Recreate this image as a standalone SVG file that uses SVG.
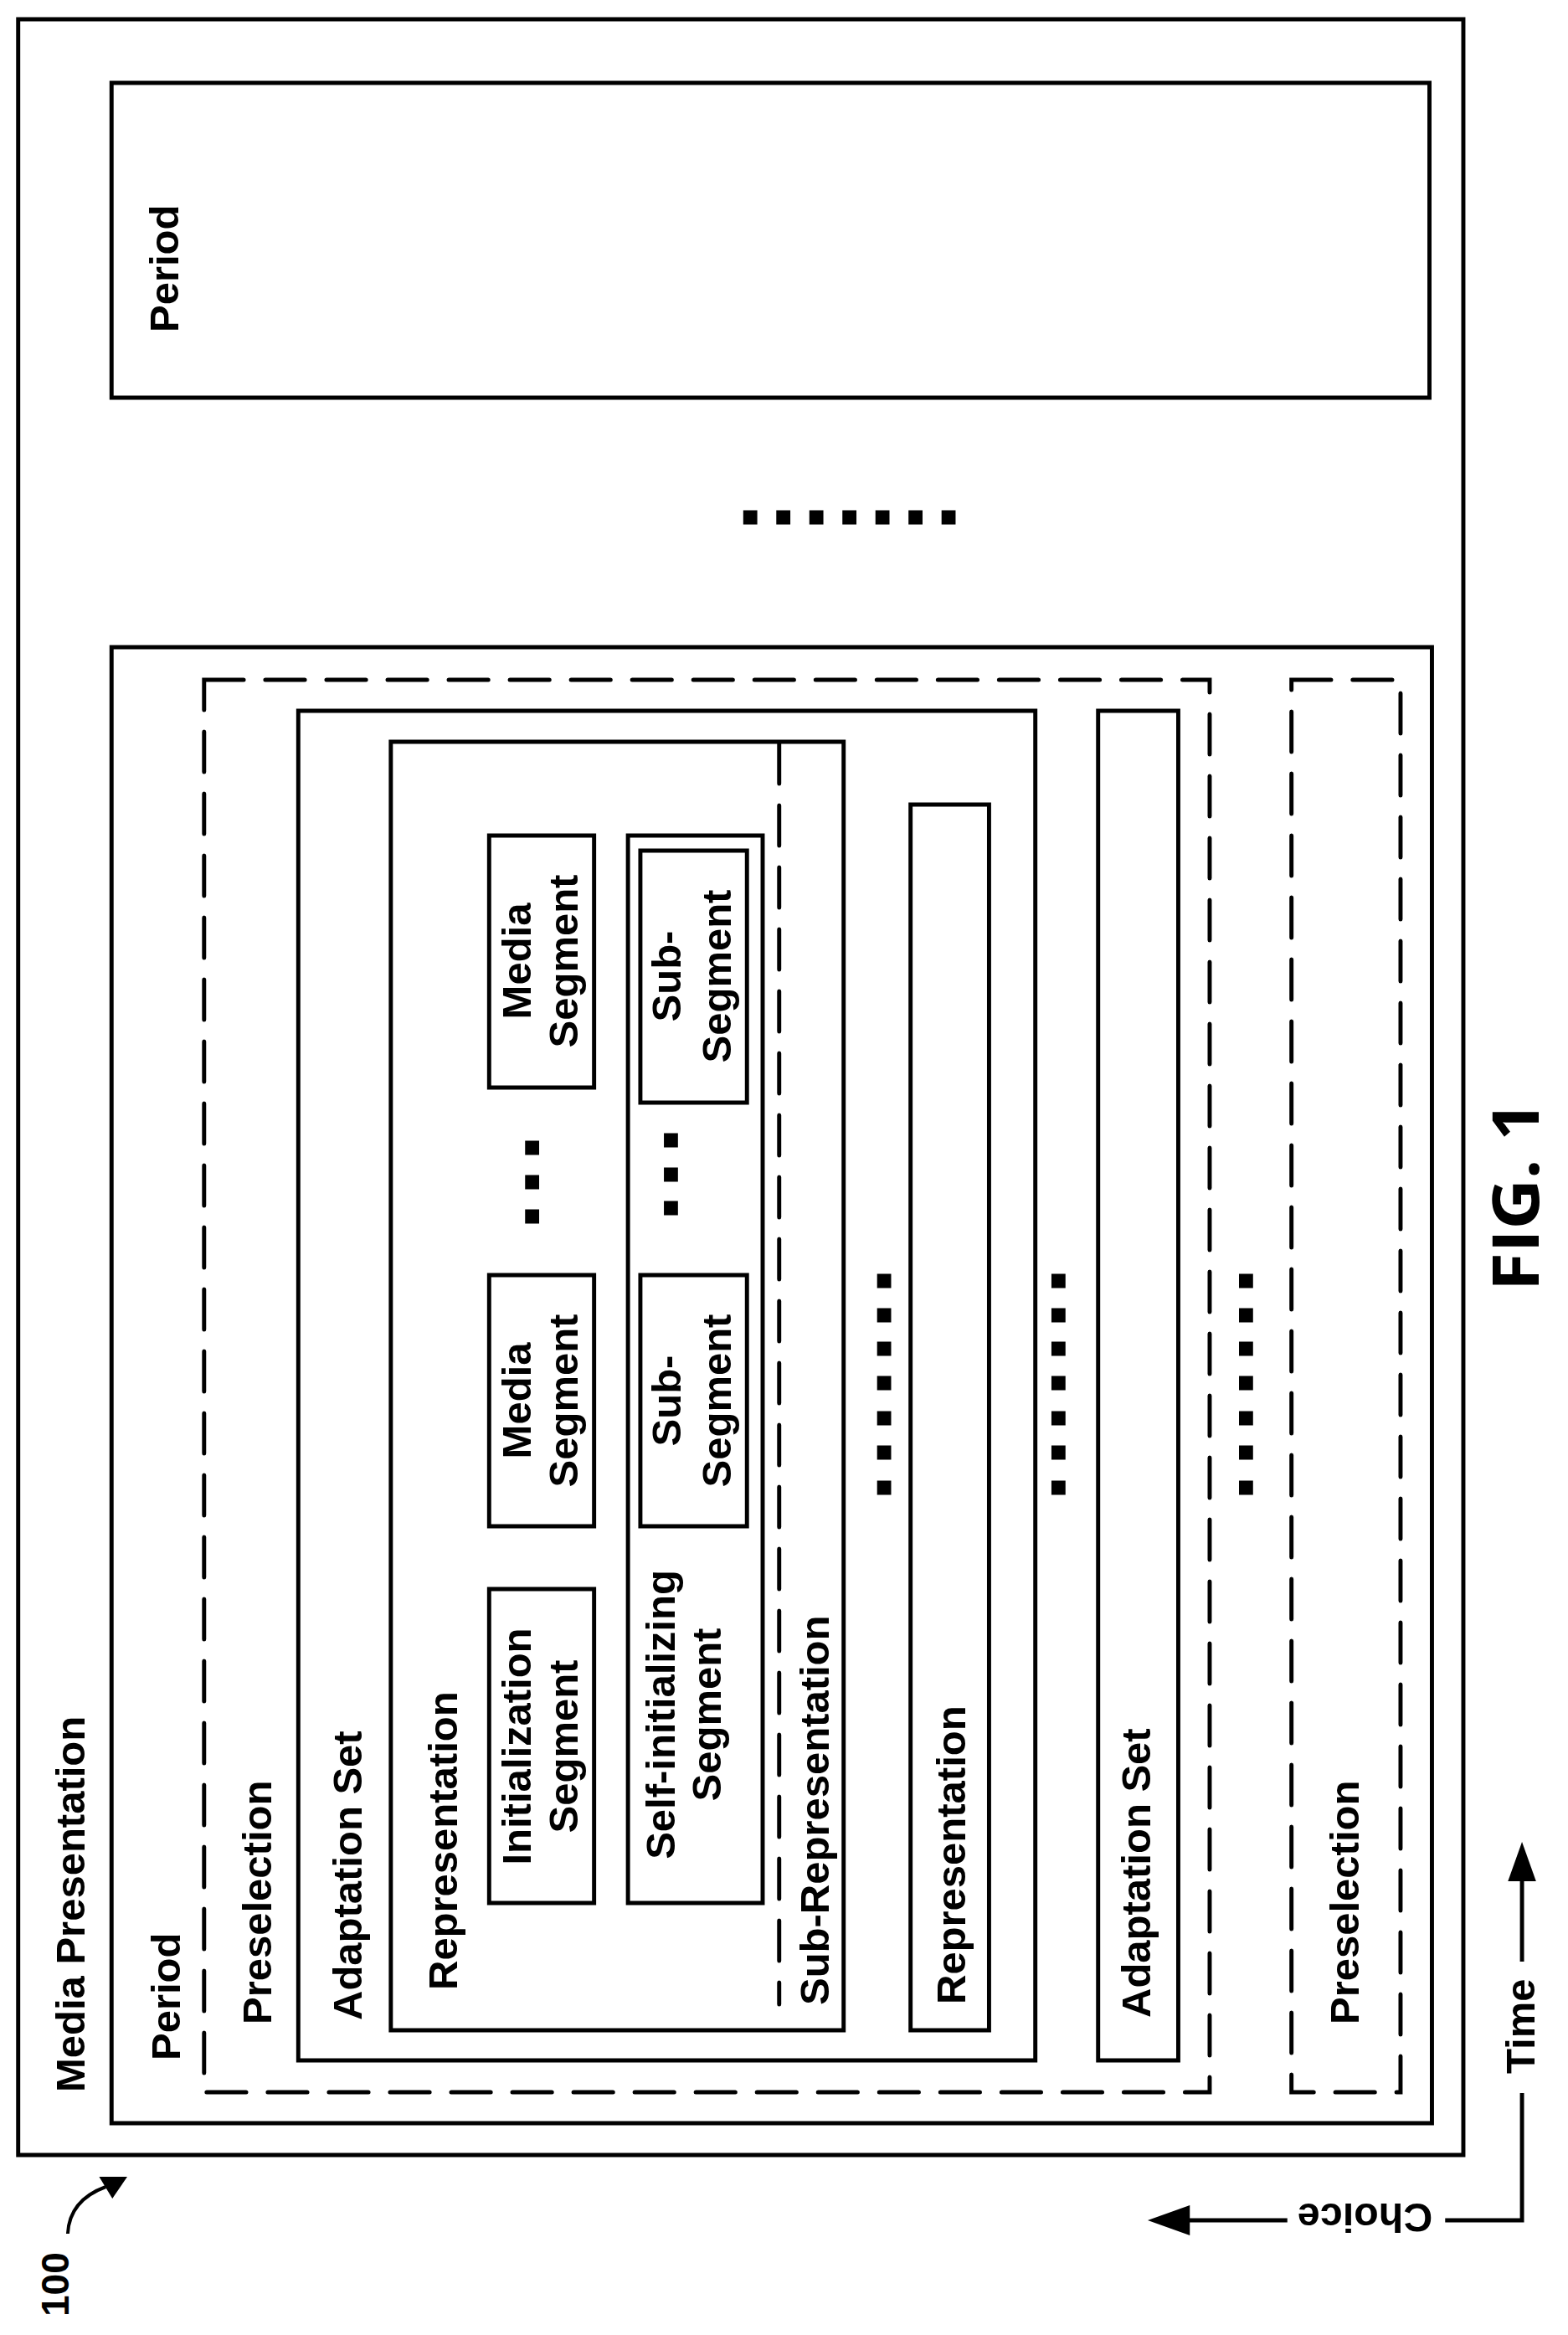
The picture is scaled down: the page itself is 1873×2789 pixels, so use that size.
<svg xmlns="http://www.w3.org/2000/svg" width="1873" height="2789" viewBox="0 0 1873 2789">
<style>
.b{fill:none;stroke:#000;stroke-width:5}
.d{fill:none;stroke:#000;stroke-width:5;stroke-dasharray:48 26;stroke-linecap:round}
text{font-family:"Liberation Sans",Arial,sans-serif;font-weight:bold;font-size:49px;fill:#000}
.c{text-anchor:middle}
.dot{fill:#000}
</style>
<defs>
<rect id="sq" class="dot" x="-8.5" y="-8.5" width="17" height="17"/>
</defs>
<g transform="matrix(0.987 0 0 1 0 0)">
<g id="media-presentation">
<rect class="b" x="22" y="23" width="1749" height="2551"/>
<text transform="translate(102,2499) rotate(-90)">Media Presentation</text>
</g>
<g id="period-2">
<rect class="b" x="135" y="99" width="1595" height="376"/>
<text transform="translate(216,397) rotate(-90)">Period</text>
</g>
<g id="period-dots">
<use href="#sq" x="908" y="618"/><use href="#sq" x="948" y="618"/><use href="#sq" x="988" y="618"/><use href="#sq" x="1028" y="618"/><use href="#sq" x="1068" y="618"/><use href="#sq" x="1108" y="618"/><use href="#sq" x="1148" y="618"/>
</g>
<g id="period-1">
<rect class="b" x="135" y="773" width="1598" height="1763"/>
<text transform="translate(218,2461) rotate(-90)">Period</text>
</g>
<g id="preselection-1">
<rect class="d" x="247" y="812" width="1217" height="1687"/>
<text transform="translate(328,2418) rotate(-90)">Preselection</text>
</g>
<g id="adaptation-set-1">
<rect class="b" x="361" y="849" width="892" height="1612"/>
<text transform="translate(438,2413) rotate(-90)">Adaptation Set</text>
</g>
<g id="representation-1">
<rect class="b" x="473" y="886" width="548" height="1539"/>
<text transform="translate(553,2377) rotate(-90)">Representation</text>
</g>
<g id="initialization-segment">
<rect class="b" x="592" y="1898" width="127" height="375"/>
<text class="c" transform="translate(642,2086) rotate(-90)">Initialization</text>
<text class="c" transform="translate(699,2086) rotate(-90)">Segment</text>
</g>
<g id="media-segment-1">
<rect class="b" x="592" y="1523" width="127" height="300"/>
<text class="c" transform="translate(642,1673) rotate(-90)">Media</text>
<text class="c" transform="translate(699,1673) rotate(-90)">Segment</text>
</g>
<g id="media-dots">
<use href="#sq" x="644" y="1371"/><use href="#sq" x="644" y="1412"/><use href="#sq" x="644" y="1453"/>
</g>
<g id="media-segment-2">
<rect class="b" x="592" y="998" width="127" height="301"/>
<text class="c" transform="translate(642,1148) rotate(-90)">Media</text>
<text class="c" transform="translate(699,1148) rotate(-90)">Segment</text>
</g>
<g id="self-initializing-segment">
<rect class="b" x="760" y="998" width="163" height="1275"/>
<text class="c" transform="translate(817,2048) rotate(-90)">Self-initializing</text>
<text class="c" transform="translate(872,2048) rotate(-90)">Segment</text>
</g>
<g id="sub-segment-1">
<rect class="b" x="775" y="1523" width="129" height="300"/>
<text class="c" transform="translate(824,1673) rotate(-90)">Sub-</text>
<text class="c" transform="translate(884,1673) rotate(-90)">Segment</text>
</g>
<g id="sub-dots">
<use href="#sq" x="812" y="1362"/><use href="#sq" x="812" y="1403"/><use href="#sq" x="812" y="1443"/>
</g>
<g id="sub-segment-2">
<rect class="b" x="775" y="1016" width="129" height="301"/>
<text class="c" transform="translate(824,1166) rotate(-90)">Sub-</text>
<text class="c" transform="translate(884,1166) rotate(-90)">Segment</text>
</g>
<g id="sub-representation">
<line class="d" x1="943" y1="888" x2="943" y2="2394"/>
<text transform="translate(1003,2395) rotate(-90)">Sub-Representation</text>
</g>
<g id="rep-dots">
<use href="#sq" x="1070" y="1530"/><use href="#sq" x="1070" y="1571"/><use href="#sq" x="1070" y="1611"/><use href="#sq" x="1070" y="1652"/><use href="#sq" x="1070" y="1694"/><use href="#sq" x="1070" y="1735"/><use href="#sq" x="1070" y="1777"/>
</g>
<g id="representation-2">
<rect class="b" x="1102" y="961" width="95" height="1464"/>
<text transform="translate(1168,2394) rotate(-90)">Representation</text>
</g>
<g id="adapt-dots">
<use href="#sq" x="1281" y="1530"/><use href="#sq" x="1281" y="1571"/><use href="#sq" x="1281" y="1611"/><use href="#sq" x="1281" y="1652"/><use href="#sq" x="1281" y="1694"/><use href="#sq" x="1281" y="1735"/><use href="#sq" x="1281" y="1777"/>
</g>
<g id="adaptation-set-2">
<rect class="b" x="1329" y="849" width="97" height="1612"/>
<text transform="translate(1392,2410) rotate(-90)">Adaptation Set</text>
</g>
<g id="presel-dots">
<use href="#sq" x="1508" y="1530"/><use href="#sq" x="1508" y="1571"/><use href="#sq" x="1508" y="1611"/><use href="#sq" x="1508" y="1652"/><use href="#sq" x="1508" y="1694"/><use href="#sq" x="1508" y="1735"/><use href="#sq" x="1508" y="1777"/>
</g>
<g id="preselection-2">
<rect class="d" x="1563" y="812" width="132" height="1687"/>
<text transform="translate(1644,2418) rotate(-90)">Preselection</text>
</g>
<g id="connectors">
<line x1="1842" y1="2245" x2="1842" y2="2343" stroke="#000" stroke-width="5"/>
<polygon points="1842,2200 1825,2247 1859,2247" fill="#000"/>
<polyline points="1842,2500 1842,2652 1749,2652" fill="none" stroke="#000" stroke-width="5"/>
<line x1="1558" y1="2652" x2="1436" y2="2652" stroke="#000" stroke-width="5"/>
<polygon points="1389,2652 1440,2634 1440,2670" fill="#000"/>
<path d="M82,2668 Q84,2628 128,2612" fill="none" stroke="#000" stroke-width="4"/>
<polygon points="154,2600 120,2600 136,2626" fill="#000"/>
</g>
<g id="labels">
<text transform="translate(1857,2477) rotate(-90)">Time</text>
<text class="c" transform="translate(1652,2632) rotate(180)">Choice</text>
<text transform="translate(83,2767) rotate(-90)" style="font-size:46px">100</text>
<text transform="translate(1862,1542) rotate(-90)" style="font-family:'Open Sans',sans-serif;font-size:78px" textLength="227" lengthAdjust="spacingAndGlyphs">FIG. 1</text>
</g>
</g>
</svg>
